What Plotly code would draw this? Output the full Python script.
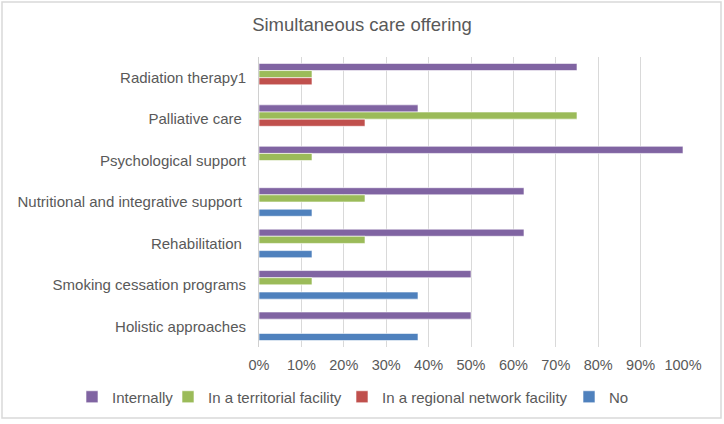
import plotly.graph_objects as go

categories = ["Radiation therapy1", "Palliative care\u00a0", "Psychological support",
              "Nutritional and integrative support\u00a0", "Rehabilitation\u00a0",
              "Smoking cessation programs", "Holistic approaches"]
series_names = ["Internally", "In a territorial facility", "In a regional network facility", "No"]
internally = [0.75, 0.375, 1.0, 0.625, 0.625, 0.5, 0.5]
territorial = [0.125, 0.75, 0.125, 0.25, 0.25, 0.125, 0.0]
regional = [0.125, 0.25, 0.0, 0.0, 0.0, 0.0, 0.0]
no = [0.0, 0.0, 0.0, 0.125, 0.125, 0.375, 0.375]
colors = ["#8064A2", "#9BBB59", "#C0504D", "#4F81BD"]

W, H = 724, 424
ml, mr, mt, mb = 259, 41, 57, 77
pw, ph = W - ml - mr, H - mt - mb
font_col = "#595959"
legend_text_x = [112, 208, 382, 609]
legend_keys = ["legend", "legend2", "legend3", "legend4"]

fig = go.Figure()
for name, vals, col, lk in zip(series_names, [internally, territorial, regional, no], colors, legend_keys):
    fig.add_trace(go.Bar(y=categories, x=vals, name=name, orientation="h", legend=lk,
                         showlegend=True,
                         marker=dict(color=col, line=dict(color="white", width=0.6))))

legends = {}
for lk, tx in zip(legend_keys, legend_text_x):
    legends[lk] = dict(orientation="h", xref="container", x=(tx - 40) / W, xanchor="left",
                       yref="container", y=1 - 397 / H, yanchor="middle",
                       font=dict(size=15, color=font_col), itemwidth=30,
                       bgcolor="rgba(0,0,0,0)")

fig.update_layout(
    width=W, height=H,
    showlegend=True,
    margin=dict(l=ml, r=mr, t=mt, b=mb, autoexpand=False),
    paper_bgcolor="white", plot_bgcolor="white",
    barmode="group", bargap=0.31, bargroupgap=0,
    font=dict(family="Liberation Sans, Arial, sans-serif", size=15, color=font_col),
    title=dict(text="Simultaneous care offering", x=0.5, xref="container", xanchor="center",
               y=1 - 25 / H, yref="container", yanchor="middle",
               font=dict(size=18.5, color=font_col)),
    xaxis=dict(range=[0, 1], dtick=0.1, tickformat=".0%", showgrid=True,
               gridcolor="#D9D9D9", gridwidth=1, zeroline=False, showline=False,
               ticklabelstandoff=7, tickfont=dict(size=14.5, color=font_col), automargin=False),
    yaxis=dict(autorange="reversed", showgrid=False, zeroline=False, showline=True,
               linecolor="#D0D0D0", linewidth=1, ticklabelstandoff=9, automargin=False,
               tickfont=dict(size=15, color=font_col)),
    shapes=[dict(type="rect", xref="paper", yref="paper",
                 x0=(2 - ml) / pw, x1=(721 - ml) / pw,
                 y0=(H - mb - 418) / ph, y1=(H - mb - 2) / ph,
                 line=dict(color="#D9D9D9", width=1.5), layer="below")],
    **legends,
)
fig.write_html("out.html", config={"displayModeBar": False},
               post_script="document.body.style.margin='0';")
